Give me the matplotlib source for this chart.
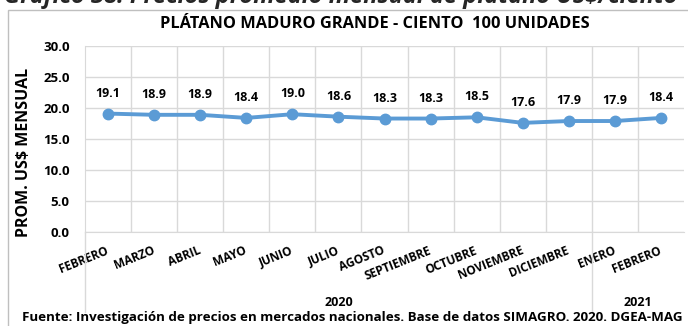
import matplotlib.pyplot as plt
from matplotlib.patches import Rectangle
from matplotlib.lines import Line2D
from matplotlib.transforms import blended_transform_factory

plt.rcParams['font.family'] = ['Open Sans', 'DejaVu Sans']
plt.rcParams['font.weight'] = 'bold'

meses = ['FEBRERO', 'MARZO', 'ABRIL', 'MAYO', 'JUNIO', 'JULIO', 'AGOSTO',
         'SEPTIEMBRE', 'OCTUBRE', 'NOVIEMBRE', 'DICIEMBRE', 'ENERO', 'FEBRERO']
precios = [19.1, 18.9, 18.9, 18.4, 19.0, 18.6, 18.3, 18.3, 18.5, 17.6, 17.9, 17.9, 18.4]
anios = ['2020', '2021']
meses_por_anio = [11, 2]
yticks = [0, 5, 10, 15, 20, 25, 30]

W, H = 688, 326
fig = plt.figure(figsize=(W / 100, H / 100), dpi=100)

def fx(px):
    return px / W

def fy(py):
    return 1 - py / H

# marco del área del gráfico
fig.patches.append(Rectangle((fx(8), fy(340)), fx(700), fy(10) - fy(340),
                             transform=fig.transFigure, fill=False,
                             edgecolor='#BFBFBF', lw=1.0))

# título del documento, recortado arriba
fig.text(fx(4), fy(-3), 'Gráfico 38: Precios promedio mensual de plátano US$/ciento',
         fontsize=17, style='italic', fontweight='bold', color='#262626',
         ha='left', va='center')

fig.text(fx(375), fy(24), 'PLÁTANO MADURO GRANDE - CIENTO  100 UNIDADES',
         fontsize=11.8, fontweight='bold', ha='center', va='center')

left, right, top, bottom = 85, 684, 46, 232
ax = fig.add_axes([fx(left), fy(bottom), fx(right - left), fy(top) - fy(bottom)])
fig_x = blended_transform_factory(ax.transData, fig.transFigure)

x = list(range(len(precios)))
ax.plot(x, precios, color='#5B9BD5', lw=2.8, marker='o', ms=7.5, zorder=3)
for xi, v in zip(x, precios):
    ax.annotate(f'{v:.1f}', (xi, v), xytext=(0, 10), textcoords='offset points',
                ha='center', va='bottom', fontsize=9, fontweight='bold')

ax.set_xlim(-0.5, len(precios) - 0.5)
ax.set_ylim(0, 30)
ax.set_yticks(yticks)
ax.set_yticklabels([f'{t:.1f}' for t in yticks], fontsize=9.5, fontweight='bold')
ax.set_xticks(x)
ax.set_xticklabels(meses, rotation=22, ha='right', va='center',
                   rotation_mode='anchor', fontsize=8.5, fontweight='bold')
ax.set_xticks([i + 0.5 for i in x[:-1]], minor=True)
ax.tick_params(axis='x', which='both', length=0, pad=13)
ax.tick_params(axis='y', length=0, pad=11)

ax.grid(axis='y', color='#D9D9D9', lw=1)
ax.grid(axis='x', which='minor', color='#D9D9D9', lw=1)
ax.set_axisbelow(True)
for side in ['top', 'right']:
    ax.spines[side].set_visible(False)
ax.spines['left'].set_color('#D9D9D9')
ax.spines['bottom'].set_color('#D9D9D9')

ax.set_ylabel('PROM. US$ MENSUAL', fontsize=11.5, fontweight='bold')
ax.yaxis.set_label_coords((32 - left) / (right - left), 0.43)

# etiquetas de año y divisiones del eje de categorías
inicio = -0.5
for anio, n in zip(anios, meses_por_anio):
    fin = inicio + n
    ax.text((inicio + fin) / 2, fy(303), anio, transform=fig_x,
            ha='center', va='center', fontsize=9, fontweight='bold')
    ax.add_line(Line2D([inicio, inicio], [fy(bottom), fy(312)], color='#D9D9D9',
                       lw=1, transform=fig_x, clip_on=False))
    inicio = fin

fig.text(fx(352), fy(318), 'Fuente: Investigación de precios en mercados nacionales. '
         'Base de datos SIMAGRO. 2020. DGEA-MAG',
         fontsize=9.6, fontweight='bold', ha='center', va='center')

fig.savefig('out.png', dpi=100)
